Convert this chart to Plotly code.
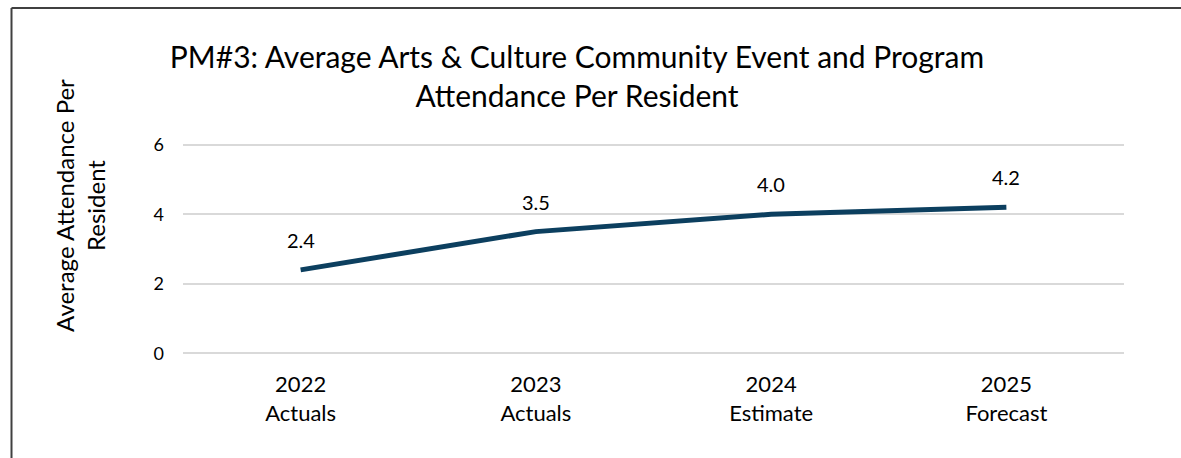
import plotly.graph_objects as go

categories = ["2022<br>Actuals", "2023<br>Actuals", "2024<br>Estimate", "2025<br>Forecast"]
values = [2.4, 3.5, 4.0, 4.2]
value_labels = ["2.4", "3.5", "4.0", "4.2"]
y_ticks = [0, 2, 4, 6]

FONT = "Lato"
W, H = 1181, 458
# pixel positions of the y=0 and y=6 gridlines in the reference
Y0_PX, Y6_PX = 353, 145
YMIN, YMAX = -0.05, 6.05
unit = (Y0_PX - Y6_PX) / 6.0
L, R = 183, 57
T = Y6_PX - (YMAX - 6) * unit
B = H - Y0_PX - (0 - YMIN) * unit
pw, ph = W - L - R, H - T - B

def px_x(p):
    return (p - L) / pw

def px_y(p):
    return (H - B - p) / ph

fig = go.Figure()
fig.add_trace(go.Scatter(
    x=categories, y=values, mode="lines",
    line=dict(color="#0c3f5f", width=5),
    hoverinfo="skip", showlegend=False,
))

for c, v, t in zip(categories, values, value_labels):
    fig.add_annotation(x=c, y=v, text=t, showarrow=False, yshift=30,
                       font=dict(family=FONT, size=20, color="#000000"))

fig.add_annotation(xref="paper", yref="paper", x=px_x(80), y=px_y(206),
                   xanchor="center", yanchor="middle",
                   text="Average Attendance Per<br>Resident", textangle=-90,
                   showarrow=False, font=dict(family=FONT, size=24, color="#000000"))

# frame (top and left edges)
fig.add_shape(type="line", xref="paper", yref="paper",
              x0=px_x(11.5), y0=px_y(470), x1=px_x(11.5), y1=px_y(8.5),
              line=dict(color="#404040", width=2))
fig.add_shape(type="line", xref="paper", yref="paper",
              x0=px_x(11.5), y0=px_y(8.5), x1=px_x(1200), y1=px_y(8.5),
              line=dict(color="#404040", width=2))

fig.update_layout(
    width=W, height=H,
    margin=dict(l=L, r=R, t=T, b=B),
    paper_bgcolor="white", plot_bgcolor="white",
    title=dict(text="PM#3: Average Arts & Culture Community Event and Program<br>Attendance Per Resident",
               x=577 / W, xanchor="center", xref="container",
               y=1 - 68 / H, yanchor="top", yref="container",
               font=dict(family=FONT, size=30, color="#000000")),
    xaxis=dict(type="category", range=[-0.5, 3.5], showgrid=False, zeroline=False,
               showline=False, ticks="", ticklabelstandoff=14,
               tickfont=dict(family=FONT, size=22, color="#000000")),
    yaxis=dict(range=[YMIN, YMAX], tickvals=y_ticks, showgrid=True, gridcolor="#d9d9d9", gridwidth=1.5,
               zeroline=False, showline=False, ticks="", ticklabelstandoff=18,
               tickfont=dict(family=FONT, size=18, color="#000000")),
    font=dict(family=FONT),
)

fig.write_html("out.html")
